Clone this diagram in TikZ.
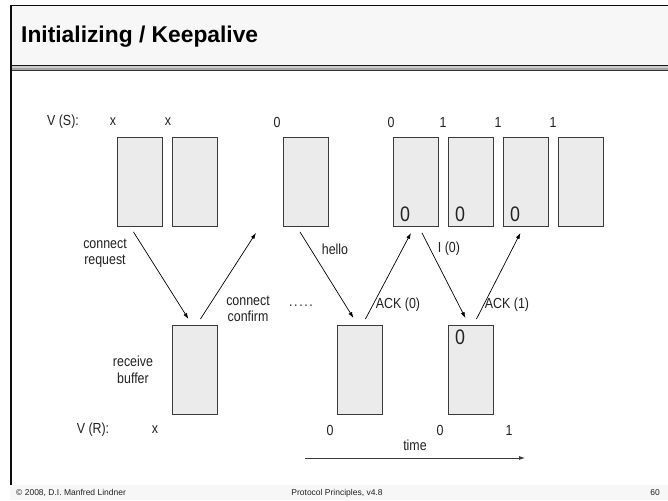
\documentclass[tikz,border=0pt]{standalone}
\usepackage{fontspec}
\setmainfont[FakeStretch=0.85]{Liberation Sans}
\newfontfamily\plainsans{Liberation Sans}
\usetikzlibrary{calc,arrows.meta}
\definecolor{bandgray}{HTML}{F7F7F7}
\definecolor{boxfill}{HTML}{EBEBEB}
\definecolor{boxline}{HTML}{3A3A3A}
\definecolor{ink}{HTML}{222222}
\begin{document}
\begin{tikzpicture}[x=1pt,y=-1pt,
  buf/.style={draw=boxline,fill=boxfill,line width=0.9pt,minimum width=45pt,minimum height=89pt,inner sep=0pt,anchor=north west},
  lbl/.style={font=\fontsize{14.6}{16.5}\selectfont,text=ink,inner sep=0pt,align=center},
  big/.style={font=\fontsize{21}{21}\selectfont,text=ink,inner sep=0pt},
  msg/.style={line width=0.7pt,-{Latex[length=6pt,width=4pt]}},
  foot/.style={font=\plainsans\fontsize{8.5}{10}\selectfont,text=ink,inner sep=0pt}]
\useasboundingbox (0,0) rectangle (668,500);
\fill[white] (0,0) rectangle (668,500);

% title band and frame
\fill[bandgray] (10,5) rectangle (668,65);
\fill[bandgray] (10,485) rectangle (668,500);
\fill[gray!70] (10,65.5) rectangle (668,70.5);
\fill[gray!40] (10,66.5) rectangle (668,68);
\draw[line width=1.2pt,black!90] (10,65.6) -- (668,65.6);
\draw[line width=1.1pt,black!80] (10,70.6) -- (668,70.6);
\draw[line width=1.7pt,black!95] (10.8,485) -- (10.8,5.5) -- (668,5.5);
\node[font=\plainsans\bfseries\fontsize{22.8}{24}\selectfont,anchor=west,inner sep=0pt] (title) at (21,36.5) {Initializing / Keepalive};

% sender buffers
\node[buf] (s1) at (117,137) {};
\node[buf] (s2) at (172,137) {};
\node[buf] (s3) at (283,137) {};
\node[buf] (s4) at (393,137) {};
\node[buf] (s5) at (448,137) {};
\node[buf] (s6) at (503,137) {};
\node[buf] (s7) at (558,137) {};

% receiver buffers
\node[buf] (r1) at (172,325) {};
\node[buf] (r2) at (337,325) {};
\node[buf] (r3) at (448,325) {};

% buffer contents
\node[big] (c4) at (405,214) {0};
\node[big] (c5) at (460,214) {0};
\node[big] (c6) at (515,214) {0};
\node[big] (cr3) at (460,337) {0};

% sequence variables of the sender
\node[lbl] (vs) at (63,122) {V (S):};
\node[lbl] (v1) at (113,122) {x};
\node[lbl] (v2) at (168,122) {x};
\node[lbl] (v3) at (277,122) {0};
\node[lbl] (v4) at (391,122) {0};
\node[lbl] (v5) at (443,122) {1};
\node[lbl] (v6) at (498,122) {1};
\node[lbl] (v7) at (553,122) {1};

% sequence variables of the receiver
\node[lbl] (vr) at (93,430) {V (R):};
\node[lbl] (w1) at (155,430) {x};
\node[lbl] (w2) at (330,430) {0};
\node[lbl] (w3) at (440,430) {0};
\node[lbl] (w4) at (509,430) {1};

% arrow end points
\coordinate (a1s) at ($(s1.south)+(-6.5,5)$);
\coordinate (a1e) at ($(r1.north)+(-6.5,-6)$);
\coordinate (a2s) at ($(r1.north)+(5.5,-6)$);
\coordinate (a2e) at ($(s3.south)+(-50,6)$);
\coordinate (a3s) at ($(s3.south)+(-6,5)$);
\coordinate (a3e) at ($(r2.north)+(-6.5,-7)$);
\coordinate (a4s) at ($(r2.north)+(5.5,-6)$);
\coordinate (a4e) at ($(s4.south)+(-5,6)$);
\coordinate (a5s) at ($(s4.south)+(6,6)$);
\coordinate (a5e) at ($(r3.north)+(-5.5,-7)$);
\coordinate (a6s) at ($(r3.north)+(5.5,-6)$);
\coordinate (a6e) at ($(s6.south)+(-5.5,6)$);

\draw[msg] (a1s) -- (a1e);
\draw[msg] (a2s) -- (a2e);
\draw[msg] (a3s) -- (a3e);
\draw[msg] (a4s) -- (a4e);
\draw[msg] (a5s) -- (a5e);
\draw[msg] (a6s) -- (a6e);

% message labels
\node[lbl] (lreq) at (105,253.5) {connect\\request};
\node[lbl] (lconf) at (248,309) {connect\\confirm};
\node[lbl,anchor=base] (ldots) at (301,306.5) {.\kern1.6pt.\kern1.6pt.\kern1.6pt.\kern1.6pt.};
\node[lbl] (lhello) at (335,249) {hello};
\node[lbl] (li0) at (449,249) {I (0)};
\node[lbl] (lack0) at (398,305) {ACK (0)};
\node[lbl] (lack1) at (507,305) {ACK (1)};
\node[lbl] (lrb) at (133,370) {receive\\buffer};

% time axis
\coordinate (t0) at (305,458);
\coordinate (t1) at (525,458);
\draw[line width=0.8pt,draw=boxline,-{Latex[length=6pt,width=4pt]}] (t0) -- (t1);
\node[lbl] (ltime) at (415,445) {time};

% footer
\node[foot,anchor=west] (fcopy) at (16,493) {\textcopyright{} 2008, D.I. Manfred Lindner};
\node[foot] (ftitle) at (337,493) {Protocol Principles, v4.8};
\node[foot] (fpage) at (655,493) {60};
\end{tikzpicture}
\end{document}
